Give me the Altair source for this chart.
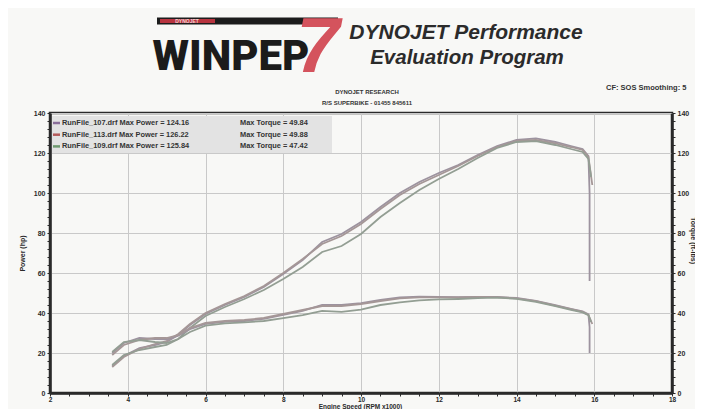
import altair as alt
import pandas as pd

# ---------------- data ----------------
RUNS = ["RunFile_107.drf", "RunFile_113.drf", "RunFile_109.drf"]
RUN_COLORS = ["#9d939f", "#a59797", "#939e93"]
MARKER_COLORS = ["#8a6f9a", "#b45a5a", "#6f9a70"]
MAX_POWER = ["124.16", "126.22", "125.84"]
MAX_TORQUE = ["49.84", "49.88", "47.42"]

RPM = [3.6, 3.9, 4.3, 4.7, 5.0, 5.3, 5.6, 6.0, 6.5, 7.0, 7.5, 8.0, 8.5, 9.0, 9.5,
       10.0, 10.5, 11.0, 11.5, 12.0, 12.5, 13.0, 13.5, 14.0, 14.5, 15.0, 15.4, 15.7, 15.85]

POWER_A = [13.5, 18.5, 22.5, 24.0, 25.5, 29.0, 34.0, 39.5, 44.0, 48.0, 53.0, 59.5, 66.5, 75.5, 79.5,
           85.5, 93.0, 100.0, 105.5, 110.0, 114.0, 119.0, 123.5, 126.5, 127.3, 125.5, 123.5, 122.0, 118.5]
POWER_B = [13.0, 18.0, 22.0, 24.5, 26.0, 29.5, 34.5, 40.0, 44.5, 48.5, 53.5, 60.0, 67.0, 74.5, 78.5,
           84.5, 92.0, 99.0, 104.5, 109.0, 113.5, 118.5, 123.0, 126.0, 126.5, 124.8, 123.0, 121.5, 118.0]
POWER_C = [14.0, 19.0, 21.5, 23.0, 24.0, 27.0, 32.5, 38.5, 43.0, 47.0, 51.5, 57.0, 63.0, 70.5, 73.5,
           79.5, 88.0, 95.0, 101.5, 107.0, 112.0, 117.5, 122.5, 125.5, 125.9, 124.0, 122.0, 120.5, 117.0]

TORQUE_A = [20.0, 25.0, 27.5, 27.0, 26.8, 28.7, 31.9, 34.6, 35.6, 36.0, 37.1, 39.1, 41.1, 44.1, 44.0,
            44.9, 46.5, 47.8, 48.2, 48.1, 47.9, 48.1, 48.0, 47.5, 46.1, 43.9, 42.1, 40.8, 39.3]
TORQUE_B = [19.0, 24.0, 26.5, 27.5, 27.5, 29.0, 32.5, 35.0, 36.0, 36.5, 37.5, 39.5, 41.5, 43.5, 43.5,
            44.5, 46.0, 47.3, 47.8, 47.8, 47.8, 48.0, 47.9, 47.3, 45.9, 43.7, 41.9, 40.6, 39.1]
TORQUE_C = [20.5, 25.5, 26.5, 25.5, 25.0, 27.0, 30.5, 33.7, 34.8, 35.3, 36.0, 37.4, 38.9, 41.1, 40.6,
            41.7, 44.0, 45.3, 46.3, 46.8, 47.0, 47.4, 47.7, 47.1, 45.6, 43.4, 41.6, 40.3, 38.9]

# end of each pull (sharp drop at the rev limiter)
TAIL_RPM = [[15.88, 15.88], [15.95], [15.92]]
TAIL_POWER = [[100.0, 56.0], [104.0], [108.0]]
TAIL_TORQUE = [[33.0, 20.0], [34.5], [35.5]]

X_TICKS = [2 + 0.5 * i for i in range(33)]
Y_TICKS = [4 * i for i in range(36)]

# ---------------- tables ----------------
prow, trow = [], []
for k, run in enumerate(RUNS):
    pw = [POWER_A, POWER_B, POWER_C][k] + TAIL_POWER[k]
    tq = [TORQUE_A, TORQUE_B, TORQUE_C][k] + TAIL_TORQUE[k]
    rp = RPM + TAIL_RPM[k]
    for i, (r, p, t) in enumerate(zip(rp, pw, tq)):
        prow.append({"run": run, "rpm": r, "hp": p, "idx": i})
        trow.append({"run": run, "rpm": r, "tq": t, "idx": i})
power_df = pd.DataFrame(prow)
torque_df = pd.DataFrame(trow)

W, H = 622, 280
FONT = "Liberation Sans"
AX = "#2a2a2a"

x_enc = alt.X(
    "rpm:Q",
    scale=alt.Scale(domain=[2, 18], nice=False, zero=False),
    axis=alt.Axis(
        values=X_TICKS,
        labelExpr="datum.value % 2 === 0 ? format(datum.value, 'd') : ''",
        title="Engine Speed (RPM x1000)",
        titleX=310, titleY=13.5, titleAlign="center", titleBaseline="middle",
        titleFontSize=6.5, titleFont=FONT, titleFontWeight="bold", titleColor=AX,
        grid=True,
        gridOpacity={"condition": {"test": "datum.value % 2 === 0", "value": 1}, "value": 0},
        gridColor="#c9c9c9", gridWidth=1,
        domainColor=AX, domainWidth=2.5, tickColor=AX, tickSize=3, tickWidth=1,
        labelFont=FONT, labelFontSize=6.5, labelFontWeight="bold", labelColor=AX,
        labelPadding=0, labelFlush=False, labelOverlap=False,
    ),
)
color_enc = alt.Color("run:N", scale=alt.Scale(domain=RUNS, range=RUN_COLORS), legend=None)

power = alt.Chart(power_df).mark_line(strokeWidth=1.8).encode(
    x=x_enc,
    y=alt.Y(
        "hp:Q",
        scale=alt.Scale(domain=[0, 140], nice=False),
        axis=alt.Axis(
            orient="left", values=Y_TICKS,
            labelExpr="datum.value % 20 === 0 ? format(datum.value, 'd') : ''",
            title="Power (hp)", titleAngle=270, titleX=-28, titleY=140,
            titleAlign="center", titleBaseline="middle",
            titleFontSize=7, titleFont=FONT, titleFontWeight="bold", titleColor=AX,
            grid=True,
            gridOpacity={"condition": {"test": "datum.value % 20 === 0", "value": 1}, "value": 0},
            gridColor="#c9c9c9",
            domainColor=AX, domainWidth=2.5, tickColor=AX, tickSize=3,
            labelFont=FONT, labelFontSize=7, labelFontWeight="bold", labelColor=AX,
            labelPadding=2, labelOverlap=False,
        ),
    ),
    color=color_enc,
    detail="run:N",
    order="idx:Q",
)

torque = alt.Chart(torque_df).mark_line(strokeWidth=1.8).encode(
    x=x_enc,
    y=alt.Y(
        "tq:Q",
        scale=alt.Scale(domain=[0, 140], nice=False),
        axis=alt.Axis(
            orient="right", values=Y_TICKS,
            labelExpr="datum.value % 20 === 0 ? format(datum.value, 'd') : ''",
            title="Torque (ft-lbs)", titleAngle=90, titleX=20, titleY=127,
            titleAlign="center", titleBaseline="middle",
            titleFontSize=7, titleFont=FONT, titleFontWeight="bold", titleColor=AX,
            grid=False,
            domainColor=AX, domainWidth=2.5, tickColor=AX, tickSize=3,
            labelFont=FONT, labelFontSize=7, labelFontWeight="bold", labelColor=AX,
            labelPadding=2, labelOverlap=False,
        ),
    ),
    color=color_enc,
    detail="run:N",
    order="idx:Q",
)


def txt(s, x, y, size, weight="bold", style="normal", color="#222", align="center",
        font=FONT, baseline="middle"):
    return alt.Chart(pd.DataFrame({"t": [s]})).mark_text(
        fontSize=size, fontWeight=weight, fontStyle=style, color=color, align=align,
        font=font, baseline=baseline,
    ).encode(x=alt.value(x), y=alt.value(y), text="t:N")


def bar(x1, x2, y, width, color):
    return alt.Chart(pd.DataFrame({"a": [0]})).mark_rule(strokeWidth=width, color=color).encode(
        x=alt.value(x1), x2=alt.value(x2), y=alt.value(y)
    )


# legend box (plot coordinates = page - (50, 113))
legend_box = alt.Chart(pd.DataFrame({"a": [0]})).mark_rect(color="#e3e3e3").encode(
    x=alt.value(2), x2=alt.value(282), y=alt.value(3), y2=alt.value(40)
)
legend_layers = [legend_box]
for k, run in enumerate(RUNS):
    yy = 10 + 11.7 * k
    legend_layers.append(bar(3, 10, yy, 2.5, MARKER_COLORS[k]))
    legend_layers.append(txt(f"{run} Max Power = {MAX_POWER[k]}", 12, yy, 7.4, align="left", color="#333"))
    legend_layers.append(txt(f"Max Torque = {MAX_TORQUE[k]}", 190, yy, 7.4, align="left", color="#333"))

# header
header = [
    bar(107, 288, -92, 7, "#1c1c1c"),
    bar(110, 165, -92, 4, "#b8343f"),
    txt("DYNOJET", 137, -92, 5, color="#f2d0d0"),
    txt("7", 268, -41, 78, style="italic", color="#d4535d", baseline="alphabetic"),
    txt("WINPEP", 181, -43, 42, weight=900, color="#1b1b1b", baseline="alphabetic",
        font="Roboto, Liberation Sans"),
    txt("DYNOJET Performance", 416, -80, 21, style="italic", color="#2b2b2b"),
    txt("Evaluation Program", 417, -55, 20.5, style="italic", color="#2b2b2b"),
    txt("DYNOJET RESEARCH", 317, -21, 6, color="#333"),
    txt("R/S SUPERBIKE - 01455 845611", 317, -10, 6, color="#333"),
    txt("CF: SOS   Smoothing: 5", 556, -25, 7.5, align="left", color="#333"),
]

chart = alt.layer(
    *legend_layers, power, torque, *header
).resolve_scale(
    y="independent"
).properties(
    width=W, height=H,
    autosize=alt.AutoSizeParams(type="none"),
    padding={"left": 42, "top": 105, "right": 23, "bottom": 16},
    background="#f8f8f6",
).configure_view(
    stroke=AX, strokeWidth=2.5
)

chart.save("out.html", embed_options={"renderer": "svg", "actions": False})
